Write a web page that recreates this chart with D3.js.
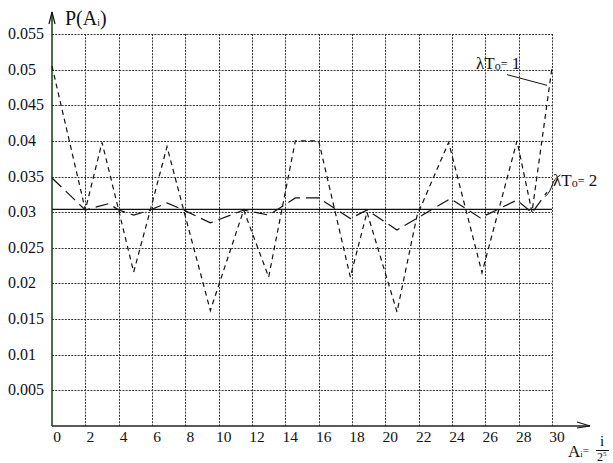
<!DOCTYPE html>
<html>
<head>
<meta charset="utf-8">
<script src="https://cdn.jsdelivr.net/npm/d3@7"></script>
<style>
  body { margin: 0; background: #fff; }
  svg { display: block; }
</style>
</head>
<body>
<div id="chart"></div>
<script>
// tick values
const xTicks = [0, 2, 4, 6, 8, 10, 12, 14, 16, 18, 20, 22, 24, 26, 28, 30];
const yTicks = [0.005, 0.01, 0.015, 0.02, 0.025, 0.03, 0.035, 0.04, 0.045, 0.05, 0.055];

// lambda*T0 = 1 (short dashes)
const xs1 = [0, 2, 3, 4, 4.9, 5.9, 6.9, 7.9, 9.5, 11.5, 13, 14.6, 16, 17.9, 18.9, 20.7, 21.9, 23.8, 25.8, 27.9, 28.8, 30];
const p1 = [0.0505, 0.0303, 0.0398, 0.0303, 0.0216, 0.0303, 0.0392, 0.0303, 0.0162, 0.0303, 0.0209, 0.0400, 0.0400, 0.0209, 0.0300, 0.0160, 0.0295, 0.0398, 0.0215, 0.0400, 0.0300, 0.0503];

// lambda*T0 = 2 (long dashes)
const xs2 = [0, 2, 3.4, 4, 4.9, 5.9, 6.9, 7.9, 9.5, 11.5, 13, 14.6, 16, 17.9, 18.9, 20.7, 23.9, 25.7, 27.9, 28.8, 29.7];
const p2 = [0.0348, 0.0303, 0.0312, 0.0303, 0.0296, 0.0303, 0.0313, 0.0303, 0.0285, 0.0303, 0.0296, 0.0320, 0.0320, 0.0291, 0.0303, 0.0275, 0.0319, 0.0292, 0.0317, 0.0299, 0.0328];

// uniform level (solid)
const uniformLevel = 0.0304;

const width = 613, height = 463;
const x = d3.scaleLinear().domain([0, 30]).range([52, 552]);
const y = d3.scaleLinear().domain([0, 0.055]).range([426, 34]);

const svg = d3.select("#chart").append("svg")
    .attr("width", width)
    .attr("height", height)
    .attr("font-family", "'Liberation Serif', 'Times New Roman', 'DejaVu Serif', serif")
    .attr("fill", "#111");

// grid
const grid = svg.append("g")
    .attr("stroke", "#333")
    .attr("stroke-width", 1)
    .attr("stroke-dasharray", "2,1.2");

grid.selectAll(".hg").data(yTicks).join("line")
    .attr("x1", x(0)).attr("x2", x(30))
    .attr("y1", d => Math.round(y(d)) + 0.5)
    .attr("y2", d => Math.round(y(d)) + 0.5);

grid.selectAll(".vg").data(xTicks.slice(1)).join("line")
    .attr("x1", d => Math.round(x(d)) + 0.5)
    .attr("x2", d => Math.round(x(d)) + 0.5)
    .attr("y1", y(0.055)).attr("y2", y(0));

// axes with arrows
svg.append("line")
    .attr("x1", x(0)).attr("x2", x(0))
    .attr("y1", y(0)).attr("y2", 12)
    .attr("stroke", "#1e4a1e").attr("stroke-width", 1.6);
svg.append("path")
    .attr("d", `M${x(0) - 3},24 L${x(0)},12 L${x(0) + 3},24`)
    .attr("fill", "none").attr("stroke", "#111").attr("stroke-width", 1.2);

svg.append("line")
    .attr("x1", x(0)).attr("x2", 590)
    .attr("y1", y(0)).attr("y2", y(0))
    .attr("stroke", "#222").attr("stroke-width", 1.6);
svg.append("path")
    .attr("d", `M577,${y(0) - 4} L590,${y(0)} L577,${y(0) + 2}`)
    .attr("fill", "none").attr("stroke", "#111").attr("stroke-width", 1.2);

// tick labels
svg.selectAll(".yl").data(yTicks).join("text")
    .attr("x", 8)
    .attr("y", d => y(d) + 5)
    .attr("font-size", 16)
    .text(d => String(d));

svg.selectAll(".xl").data(xTicks).join("text")
    .attr("x", d => x(d) + 5)
    .attr("y", 442)
    .attr("text-anchor", "middle")
    .attr("font-size", 15.5)
    .text(d => d);

// solid uniform line
svg.append("line")
    .attr("x1", x(0)).attr("x2", x(30))
    .attr("y1", y(uniformLevel)).attr("y2", y(uniformLevel))
    .attr("stroke", "#111").attr("stroke-width", 1.3);

const line = d3.line().x(d => x(d[0])).y(d => y(d[1]));

svg.append("path")
    .datum(xs2.map((v, i) => [v, p2[i]]))
    .attr("d", line)
    .attr("fill", "none")
    .attr("stroke", "#111")
    .attr("stroke-width", 1.2)
    .attr("stroke-dasharray", "13,6");

svg.append("path")
    .datum(xs1.map((v, i) => [v, p1[i]]))
    .attr("d", line)
    .attr("fill", "none")
    .attr("stroke", "#111")
    .attr("stroke-width", 1.2)
    .attr("stroke-dasharray", "5,4");

// axis titles
const py = svg.append("text").attr("x", 65).attr("y", 25).attr("font-size", 20);
py.append("tspan").text("P(A");
py.append("tspan").attr("font-size", 10).attr("dy", 1).text("i");
py.append("tspan").attr("dy", -1).text(")");

const ax = svg.append("text").attr("x", 568).attr("y", 457).attr("font-size", 17);
ax.append("tspan").text("A");
ax.append("tspan").attr("font-size", 9).attr("dy", 0).text("i");
ax.append("tspan").attr("font-size", 11).attr("dy", -3).text("=");
svg.append("text").attr("x", 602).attr("y", 446).attr("font-size", 15)
    .attr("text-anchor", "middle").text("i");
svg.append("line").attr("x1", 596).attr("x2", 609).attr("y1", 450.5).attr("y2", 450.5)
    .attr("stroke", "#111").attr("stroke-width", 1);
const den = svg.append("text").attr("x", 597).attr("y", 461).attr("font-size", 12);
den.append("tspan").text("2");
den.append("tspan").attr("font-size", 7).attr("dy", -5).text("5");

// series labels
function lambdaLabel(px, py, n) {
    const t = svg.append("text").attr("x", px).attr("y", py).attr("font-size", 17);
    t.append("tspan").text("λT");
    t.append("tspan").attr("font-size", 12).attr("dy", 1).text("o");
    t.append("tspan").attr("font-size", 12).attr("dy", -2).text("=");
    t.append("tspan").attr("dy", 1).text(" " + n);
}
lambdaLabel(476, 69, 1);
lambdaLabel(553, 186, 2);

// leaders
svg.append("line")
    .attr("x1", x(27.3)).attr("y1", y(0.0493))
    .attr("x2", x(29.7)).attr("y2", y(0.0478))
    .attr("stroke", "#111").attr("stroke-width", 1);

const lp = d3.path();
lp.moveTo(x(29.6), y(0.0322));
lp.bezierCurveTo(x(30.1), y(0.0332), x(29.9), y(0.0345), x(30.5), y(0.0352));
svg.append("path").attr("d", lp.toString())
    .attr("fill", "none").attr("stroke", "#111").attr("stroke-width", 1);
</script>
</body>
</html>
